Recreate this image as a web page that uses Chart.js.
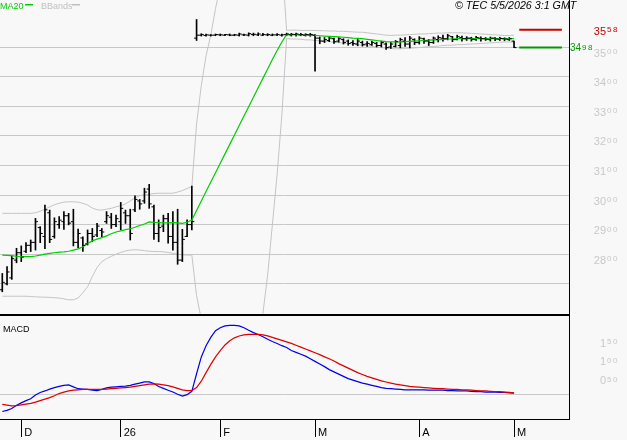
<!DOCTYPE html>
<html>
<head>
<meta charset="utf-8">
<script src="https://cdn.jsdelivr.net/npm/chart.js@4.4.1/dist/chart.umd.min.js"></script>
<style>
  body { margin: 0; background: #f8f8f8; }
  #wrap { position: relative; width: 627px; height: 440px; background: #f8f8f8; overflow: hidden; }
  canvas { position: absolute; left: 0; }
  #price { top: 0; }
  #macd { top: 315px; }
</style>
</head>
<body>
<div id="wrap">
  <canvas id="price" width="627" height="315"></canvas>
  <canvas id="macd" width="627" height="125"></canvas>
</div>
<script>
// daily bars, index 0 = last days of November 2025, index 108 = 4 May 2026
const high = [27.35,27.58,27.94,28.20,28.28,28.39,28.48,29.21,28.93,29.66,
  29.49,29.23,29.27,29.44,29.38,29.52,28.85,28.59,28.82,28.87,
  29.04,28.87,29.44,29.38,29.32,29.75,29.49,29.52,29.97,29.85,
  30.23,30.36,29.66,29.16,29.32,29.38,29.44,29.52,28.84,29.16,
  30.30,35.93,35.45,35.44,35.42,35.44,35.44,35.43,35.44,35.43,
  35.47,35.44,35.48,35.47,35.48,35.46,35.45,35.44,35.45,35.44,
  35.47,35.46,35.47,35.46,35.45,35.46,35.42,35.34,35.32,35.34,
  35.30,35.32,35.28,35.24,35.22,35.26,35.20,35.18,35.20,35.16,
  35.20,35.14,35.16,35.22,35.30,35.32,35.36,35.28,35.35,35.30,
  35.26,35.34,35.38,35.40,35.43,35.36,35.40,35.37,35.35,35.33,
  35.36,35.34,35.32,35.34,35.32,35.33,35.31,35.32,35.20];
const low = [26.73,26.96,27.15,27.71,27.75,28.05,28.09,28.14,28.39,28.19,
  28.39,28.54,28.87,28.84,28.99,28.28,28.22,28.09,28.31,28.42,
  28.59,28.59,29.04,28.87,28.93,28.82,29.04,28.48,29.44,29.52,
  29.72,29.55,28.50,28.42,28.76,28.37,28.14,27.66,27.75,28.59,
  28.82,35.22,35.37,35.37,35.37,35.38,35.38,35.38,35.38,35.38,
  35.37,35.38,35.37,35.38,35.38,35.38,35.38,35.38,35.38,35.37,
  35.38,35.37,35.37,35.38,35.37,35.36,34.18,35.11,35.15,35.18,
  35.12,35.16,35.10,35.06,35.05,35.04,35.03,35.02,35.05,35.00,
  35.00,34.92,34.95,35.00,34.97,35.02,34.97,35.08,35.10,35.12,
  35.05,35.12,35.17,35.20,35.24,35.18,35.24,35.20,35.22,35.20,
  35.22,35.20,35.22,35.20,35.21,35.22,35.21,35.22,34.98];
const open = [26.80,27.00,27.20,27.80,28.05,28.10,28.30,28.40,28.90,28.60,
  29.40,28.60,29.00,29.10,29.30,29.10,28.40,28.55,28.35,28.70,
  28.65,28.80,29.10,29.25,29.00,29.10,29.40,29.30,29.50,29.80,
  29.80,30.20,29.60,28.70,28.95,29.20,28.60,28.40,27.80,28.60,
  29.00,35.30,35.40,35.39,35.40,35.40,35.41,35.40,35.41,35.40,
  35.40,35.41,35.40,35.42,35.41,35.40,35.41,35.40,35.41,35.40,
  35.42,35.41,35.42,35.41,35.40,35.41,35.40,35.30,35.20,35.22,
  35.28,35.20,35.25,35.20,35.15,35.10,35.15,35.10,35.08,35.12,
  35.05,35.10,35.00,35.02,35.05,35.20,35.10,35.25,35.15,35.28,
  35.20,35.15,35.25,35.30,35.28,35.35,35.25,35.32,35.28,35.30,
  35.25,35.30,35.28,35.25,35.30,35.26,35.28,35.25,35.20];
const close = [27.05,27.40,27.85,28.05,27.90,28.30,28.40,29.10,28.70,29.50,
  28.50,29.10,29.15,29.30,29.05,28.40,28.70,28.30,28.70,28.60,
  28.95,28.75,29.30,29.00,29.20,29.55,29.30,28.70,29.85,29.70,
  30.10,29.70,28.70,28.90,29.20,28.60,28.40,27.80,28.50,29.00,
  29.10,35.40,35.42,35.41,35.40,35.42,35.41,35.42,35.40,35.41,
  35.44,35.41,35.45,35.43,35.44,35.42,35.42,35.41,35.42,35.41,
  35.44,35.43,35.44,35.42,35.42,35.42,35.30,35.20,35.25,35.30,
  35.18,35.28,35.15,35.12,35.12,35.20,35.08,35.12,35.15,35.05,
  35.15,34.98,35.10,35.18,35.25,35.10,35.30,35.15,35.30,35.20,
  35.15,35.30,35.32,35.28,35.38,35.25,35.35,35.28,35.30,35.26,
  35.32,35.28,35.26,35.30,35.27,35.29,35.27,35.28,34.98];

const ma20 = [27.97,27.96,27.95,27.93,27.92,27.92,27.92,27.94,27.97,28.00,
  28.03,28.05,28.07,28.08,28.10,28.14,28.18,28.25,28.36,28.45,
  28.51,28.56,28.62,28.69,28.75,28.79,28.83,28.86,28.91,28.97,
  29.02,29.09,29.08,29.07,29.06,29.06,29.07,29.06,29.04,29.08,
  29.15,29.48,29.80,30.12,30.44,30.75,31.07,31.39,31.71,32.03,
  32.35,32.67,32.98,33.30,33.62,33.94,34.26,34.58,34.88,35.17,
  35.42,35.42,35.42,35.41,35.40,35.40,35.39,35.38,35.37,35.36,
  35.35,35.34,35.33,35.32,35.30,35.29,35.28,35.26,35.24,35.22,
  35.20,35.18,35.17,35.17,35.17,35.18,35.19,35.20,35.21,35.22,
  35.23,35.24,35.25,35.26,35.27,35.27,35.28,35.28,35.28,35.28,
  35.28,35.28,35.28,35.28,35.28,35.28,35.28,35.28,35.28];
const bbUpper = [29.38,29.38,29.38,29.38,29.38,29.38,29.38,29.40,29.45,29.52,
  29.60,29.67,29.72,29.76,29.77,29.77,29.76,29.72,29.66,29.56,
  29.50,29.49,29.52,29.55,29.60,29.64,29.70,29.80,29.90,29.98,
  30.00,30.02,30.05,30.06,30.06,30.06,30.06,30.10,30.15,30.22,
  30.28,32.40,33.70,34.70,35.40,36.30,37.05,37.60,38.10,38.50,
  38.85,39.10,39.30,39.40,39.45,39.40,39.25,39.00,38.60,38.00,
  35.56,35.57,35.57,35.56,35.56,35.56,35.56,35.55,35.55,35.54,
  35.54,35.53,35.53,35.52,35.51,35.50,35.50,35.48,35.46,35.44,
  35.42,35.40,35.39,35.40,35.40,35.41,35.42,35.43,35.44,35.44,
  35.45,35.46,35.47,35.47,35.48,35.48,35.48,35.48,35.47,35.46,
  35.45,35.44,35.43,35.42,35.41,35.40,35.39,35.39,35.40];
const bbLower = [26.58,26.58,26.58,26.58,26.58,26.58,26.57,26.56,26.55,26.55,
  26.54,26.53,26.52,26.49,26.46,26.46,26.52,26.70,26.90,27.25,
  27.55,27.75,27.85,27.93,28.00,28.06,28.11,28.14,28.15,28.14,
  28.12,28.10,28.09,28.09,28.08,28.06,28.03,28.00,27.98,27.97,
  27.97,26.60,25.80,25.50,25.30,25.20,25.10,25.05,25.00,25.00,
  25.05,25.15,25.30,25.50,25.75,26.00,27.30,29.00,30.70,32.70,
  35.28,35.27,35.27,35.26,35.24,35.24,35.22,35.21,35.19,35.18,
  35.16,35.15,35.13,35.12,35.09,35.08,35.06,35.04,35.02,35.00,
  34.98,34.96,34.95,34.94,34.94,34.95,34.96,34.97,34.98,35.00,
  35.01,35.02,35.03,35.05,35.06,35.06,35.08,35.08,35.09,35.10,
  35.11,35.12,35.13,35.14,35.15,35.16,35.17,35.17,35.16];

const macdLine = [-0.46,-0.43,-0.38,-0.29,-0.23,-0.17,-0.12,-0.02,0.05,0.09,
  0.14,0.18,0.21,0.24,0.25,0.20,0.15,0.14,0.13,0.11,
  0.10,0.13,0.17,0.19,0.20,0.21,0.22,0.24,0.27,0.30,
  0.33,0.33,0.29,0.21,0.16,0.11,0.06,0.00,-0.05,-0.01,
  0.08,0.55,1.00,1.30,1.52,1.70,1.78,1.83,1.84,1.84,
  1.83,1.78,1.71,1.65,1.60,1.54,1.47,1.41,1.36,1.30,
  1.25,1.17,1.12,1.07,1.02,0.95,0.88,0.81,0.74,0.66,
  0.60,0.54,0.48,0.42,0.38,0.34,0.30,0.27,0.24,0.21,
  0.18,0.16,0.15,0.14,0.13,0.12,0.12,0.12,0.12,0.12,
  0.11,0.11,0.11,0.11,0.10,0.10,0.09,0.09,0.09,0.08,
  0.07,0.07,0.06,0.06,0.06,0.05,0.05,0.04,0.03];
const signalLine = [-0.27,-0.29,-0.31,-0.30,-0.28,-0.26,-0.24,-0.21,-0.17,-0.13,
  -0.09,-0.04,0.02,0.06,0.09,0.11,0.12,0.13,0.13,0.13,
  0.13,0.13,0.14,0.15,0.16,0.17,0.18,0.19,0.21,0.23,
  0.25,0.27,0.28,0.27,0.25,0.23,0.20,0.16,0.12,0.10,
  0.10,0.18,0.35,0.58,0.80,1.00,1.17,1.32,1.43,1.51,
  1.56,1.59,1.60,1.60,1.60,1.59,1.56,1.52,1.48,1.44,
  1.40,1.36,1.31,1.26,1.21,1.16,1.11,1.06,1.00,0.95,
  0.89,0.82,0.76,0.70,0.64,0.58,0.53,0.48,0.44,0.40,
  0.36,0.33,0.30,0.27,0.25,0.23,0.21,0.20,0.19,0.18,
  0.17,0.16,0.15,0.15,0.14,0.13,0.13,0.12,0.12,0.11,
  0.10,0.09,0.09,0.08,0.07,0.07,0.06,0.05,0.04];

// axis ticks
const monthIdx = [4, 25, 46, 66, 88, 108];
const monthLabels = ['D', '26', 'F', 'M', 'A', 'M'];
const priceGrid = [27, 28, 29, 30, 31, 32, 33, 34, 35];
const priceLabels = [28, 29, 30, 31, 32, 33, 34, 35];
const macdLabels = [0.5, 1.0, 1.5];
const refHigh = 35.58;   // red marker
const lastClose = 34.98; // green marker

const FONT = '"Liberation Sans", Arial, sans-serif';
const X_MIN = -0.485, X_MAX = 119.6;

function pts(arr) { return arr.map((v, i) => ({ x: i, y: v })); }

// "35" big + "00" small, like the original quote display
function splitLabel(ctx, v, xSplit, yBig, ySmall, bigPx, smallPx, color, leftX) {
  const ip = Math.floor(v + 1e-6);
  const dec = String(Math.round((v - ip) * 100)).padStart(2, '0');
  ctx.fillStyle = color;
  ctx.textBaseline = 'alphabetic';
  ctx.font = bigPx + 'px ' + FONT;
  let split = xSplit;
  if (leftX != null) {
    ctx.textAlign = 'left';
    ctx.fillText(String(ip), leftX, yBig);
    split = leftX + ctx.measureText(String(ip)).width;
  } else {
    ctx.textAlign = 'right';
    ctx.fillText(String(ip), xSplit, yBig);
  }
  ctx.font = smallPx + 'px ' + FONT;
  ctx.textAlign = 'left';
  ctx.fillText(dec[0], split + 1, ySmall);
  ctx.fillText(dec[1], split + 7, ySmall);
}

const priceDecor = {
  id: 'priceDecor',
  afterDatasetsDraw(chart) {
    const ctx = chart.ctx, xs = chart.scales.x, ys = chart.scales.y;
    ctx.save();
    ctx.fillStyle = '#000';
    for (let i = 0; i < high.length; i++) {
      const x = xs.getPixelForValue(i);
      ctx.fillRect(x - 2.5, ys.getPixelForValue(open[i]) - 0.5, 2.5, 1);
      ctx.fillRect(x, ys.getPixelForValue(close[i]) - 0.5, 2.5, 1);
    }
    ctx.restore();
  },
  afterDraw(chart) {
    const ctx = chart.ctx, ys = chart.scales.y, a = chart.chartArea;
    ctx.save();
    ctx.fillStyle = '#000';
    ctx.fillRect(0, a.bottom - 1, a.right, 1);

    priceLabels.forEach(v => {
      const y = ys.getPixelForValue(v);
      splitLabel(ctx, v, 606, y + 9.5, y + 7, 11, 8, '#c8c8c8');
    });
    let y = ys.getPixelForValue(refHigh);
    splitLabel(ctx, refHigh, 606, y + 5, y + 2.5, 11, 8, '#cc0000');
    y = ys.getPixelForValue(lastClose);
    splitLabel(ctx, lastClose, 0, y + 3.6, y + 2, 10, 8, '#009900', 570);

    ctx.textAlign = 'left';
    ctx.textBaseline = 'alphabetic';
    ctx.font = '9px ' + FONT;
    ctx.fillStyle = '#00cc00';
    ctx.fillText('MA20', 0, 8.5);
    ctx.fillRect(25, 4, 8, 1.5);
    ctx.fillStyle = '#c0c0c0';
    ctx.fillText('BBands', 41, 8.5);
    ctx.fillRect(72, 4, 8, 1.5);
    ctx.font = 'italic 10.7px ' + FONT;
    ctx.fillStyle = '#000';
    ctx.fillText('\u00A9 TEC 5/5/2026 3:1 GMT', 455, 8.7);
    ctx.restore();
  }
};

new Chart(document.getElementById('price'), {
  type: 'bar',
  data: {
    datasets: [
      { type: 'line', data: pts(bbUpper), borderColor: '#c4c4c4', borderWidth: 1, pointRadius: 0, order: 4 },
      { type: 'line', data: pts(bbLower), borderColor: '#c4c4c4', borderWidth: 1, pointRadius: 0, order: 4 },
      { type: 'bar', data: high.map((h, i) => ({ x: i, y: [low[i], h] })), backgroundColor: '#000',
        borderWidth: 0, barThickness: 1, order: 3 },
      { type: 'line', data: pts(ma20), borderColor: '#00cc00', borderWidth: 1.2, pointRadius: 0, order: 2 },
      { type: 'line', data: [{ x: 109.1, y: refHigh }, { x: 118.1, y: refHigh }], borderColor: '#cc0000',
        borderWidth: 2, pointRadius: 0, order: 1 },
      { type: 'line', data: [{ x: 109.1, y: lastClose }, { x: 118.1, y: lastClose }], borderColor: '#009900',
        borderWidth: 2, pointRadius: 0, order: 1 }
    ]
  },
  options: {
    responsive: false,
    animation: false,
    events: [],
    layout: { padding: 0 },
    plugins: { legend: { display: false }, tooltip: { enabled: false } },
    scales: {
      x: { type: 'linear', min: X_MIN, max: X_MAX, offset: false, display: false, grid: { display: false } },
      y: {
        position: 'right', min: 25.946, max: 36.588,
        afterFit(s) { s.width = 58; },
        afterBuildTicks(s) { s.ticks = priceGrid.map(v => ({ value: v })); },
        ticks: { display: false },
        grid: { color: '#c8c8c8', lineWidth: 1, drawTicks: false },
        border: { display: true, color: '#000', width: 1 }
      }
    }
  },
  plugins: [priceDecor]
});

const macdDecor = {
  id: 'macdDecor',
  afterDraw(chart) {
    const ctx = chart.ctx, ys = chart.scales.y, a = chart.chartArea;
    ctx.save();
    ctx.fillStyle = '#000';
    ctx.fillRect(0, a.top, a.right, 1);
    macdLabels.forEach(v => {
      const y = ys.getPixelForValue(v);
      splitLabel(ctx, v, 606, y + 8.5, y + 6, 11, 8, '#c8c8c8');
    });
    ctx.fillStyle = '#000';
    ctx.font = '9px ' + FONT;
    ctx.textAlign = 'left';
    ctx.textBaseline = 'alphabetic';
    ctx.fillText('MACD', 3, 16.5);
    ctx.restore();
  }
};

new Chart(document.getElementById('macd'), {
  type: 'line',
  data: {
    datasets: [
      { data: pts(signalLine), borderColor: '#dd0000', borderWidth: 1.2, pointRadius: 0 },
      { data: pts(macdLine), borderColor: '#0000ee', borderWidth: 1.2, pointRadius: 0 }
    ]
  },
  options: {
    responsive: false,
    animation: false,
    events: [],
    layout: { padding: 0 },
    plugins: { legend: { display: false }, tooltip: { enabled: false } },
    scales: {
      x: {
        type: 'linear', min: X_MIN, max: X_MAX, offset: false,
        afterFit(s) { s.height = 21; },
        afterBuildTicks(s) { s.ticks = monthIdx.map(v => ({ value: v })); },
        ticks: {
          autoSkip: false, maxRotation: 0, align: 'start', labelOffset: 3, padding: -11,
          color: '#000', font: { family: FONT, size: 11 },
          callback: (v, i) => monthLabels[i]
        },
        grid: { drawOnChartArea: false, drawTicks: true, tickLength: 18, color: '#000', lineWidth: 1 },
        border: { display: true, color: '#000', width: 1 }
      },
      y: {
        position: 'right', min: -0.66, max: 2.12,
        afterFit(s) { s.width = 58; },
        afterBuildTicks(s) { s.ticks = [{ value: 0 }]; },
        ticks: { display: false },
        grid: { color: '#c8c8c8', lineWidth: 1, drawTicks: false },
        border: { display: true, color: '#000', width: 1 }
      }
    }
  },
  plugins: [macdDecor]
});
</script>
</body>
</html>
